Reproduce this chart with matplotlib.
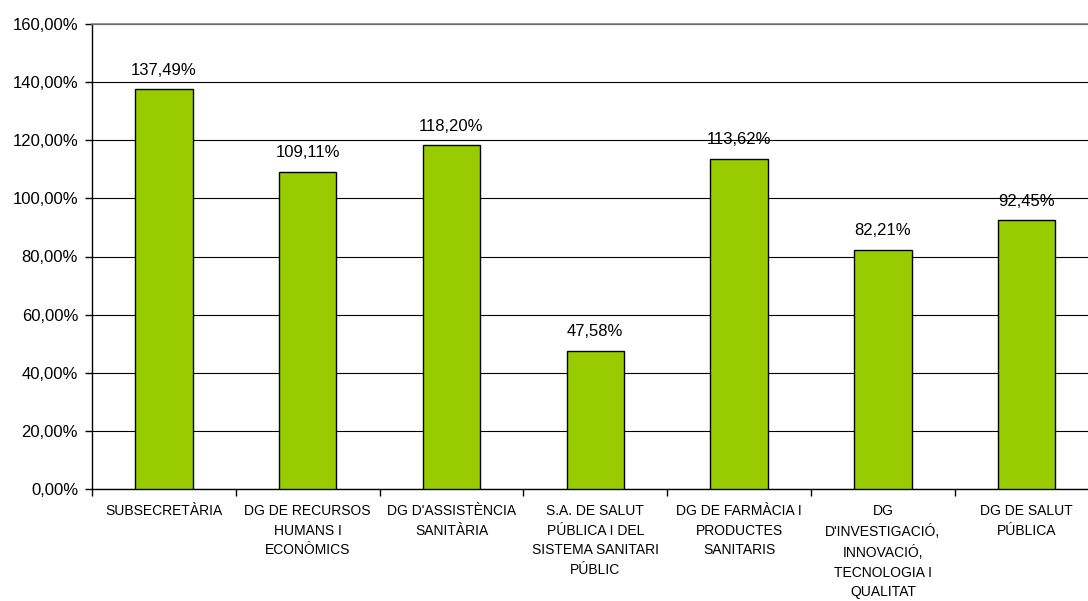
import matplotlib
matplotlib.use("Agg")
import matplotlib.pyplot as plt
from matplotlib.ticker import FuncFormatter, FixedLocator

plt.rcParams['font.family'] = ['Liberation Sans', 'DejaVu Sans']

categories = [
    "SUBSECRETÀRIA",
    "DG DE RECURSOS\nHUMANS I\nECONÒMICS",
    "DG D'ASSISTÈNCIA\nSANITÀRIA",
    "S.A. DE SALUT\nPÚBLICA I DEL\nSISTEMA SANITARI\nPÚBLIC",
    "DG DE FARMÀCIA I\nPRODUCTES\nSANITARIS",
    "DG\nD'INVESTIGACIÓ,\nINNOVACIÓ,\nTECNOLOGIA I\nQUALITAT",
    "DG DE SALUT\nPÚBLICA",
]
values = [137.49, 109.11, 118.20, 47.58, 113.62, 82.21, 92.45]

fig = plt.figure(figsize=(10.88, 6.01), dpi=100)
ax_w = 7 * 143.8
ax = fig.add_axes([92/1088, 1 - 489/601, ax_w/1088, (489 - 24)/601])

x = list(range(len(categories)))
ax.bar(x, values, width=0.4, color="#99CC00", edgecolor="black", linewidth=1, zorder=3)

for xi, v in zip(x, values):
    ax.text(xi, v + 4.0, f"{v:.2f}%".replace(".", ","), ha="center", va="bottom",
            fontsize=12, zorder=4)

ax.set_xlim(-0.5, len(categories) - 0.5)
ax.set_ylim(0, 160)
ax.set_yticks(range(0, 161, 20))
ax.yaxis.set_major_formatter(FuncFormatter(lambda v, p: f"{v:.2f}%".replace(".", ",")))
ax.grid(axis="y", color="black", linewidth=0.8, zorder=0)
ax.tick_params(axis="y", labelsize=12, length=5, width=1, direction="out", pad=5)

ax.set_xticks(x)
ax.set_xticklabels(categories, fontsize=10, linespacing=1.5, va="top")
ax.tick_params(axis="x", length=0, pad=11)
ax.xaxis.set_minor_locator(FixedLocator([i + 0.5 for i in range(-1, len(categories))]))
ax.tick_params(axis="x", which="minor", length=5, width=1, direction="out")

ax.spines["right"].set_visible(False)
ax.spines["top"].set_color("#808080")
ax.spines["top"].set_linewidth(1.2)
ax.spines["top"].set_zorder(5)
ax.spines["left"].set_linewidth(1)
ax.spines["bottom"].set_linewidth(1)

fig.savefig("out.png", dpi=100)
